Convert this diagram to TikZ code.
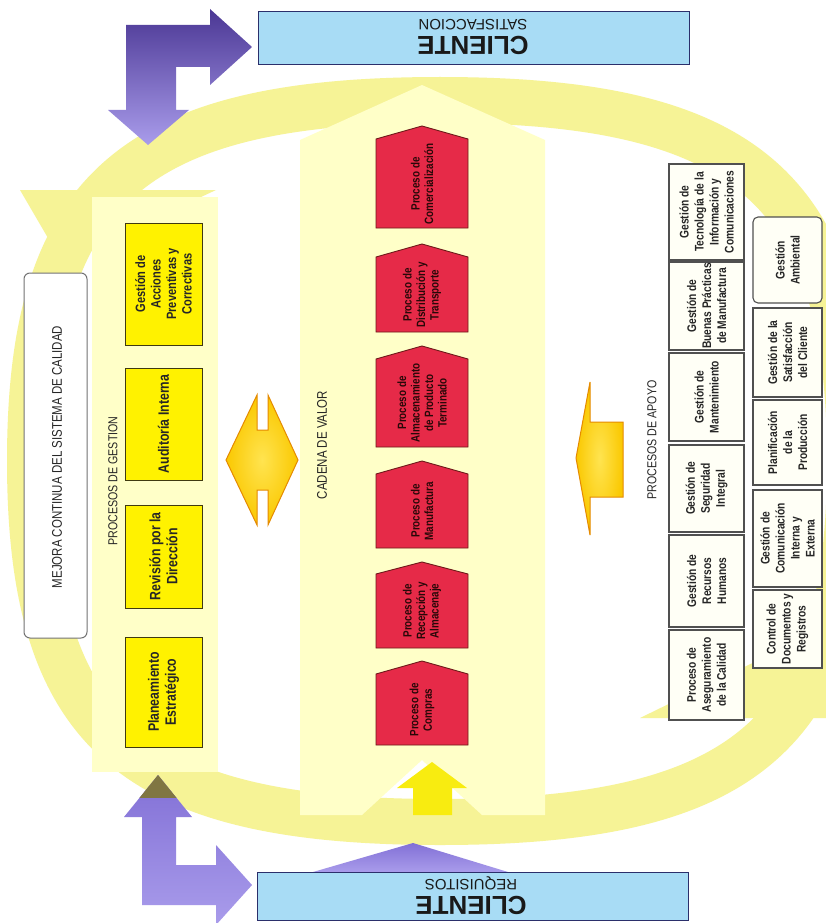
\documentclass[tikz,border=0pt]{standalone}
\usepackage{fontspec}
\setmainfont{Liberation Sans}
\newfontfamily\cond{Liberation Sans}[FakeStretch=0.82]
\definecolor{ringY}{RGB}{246,243,150}
\definecolor{paleY}{RGB}{255,255,200}
\definecolor{redF}{RGB}{230,42,72}
\definecolor{redB}{RGB}{110,26,26}
\definecolor{redT}{RGB}{40,8,8}
\definecolor{gesB}{RGB}{64,58,16}
\definecolor{supF}{RGB}{255,255,246}
\definecolor{supB}{RGB}{80,80,80}
\definecolor{cliF}{RGB}{168,220,245}
\definecolor{cliB}{RGB}{43,47,107}
\definecolor{purD}{RGB}{75,55,148}
\definecolor{purM}{RGB}{130,112,214}
\definecolor{purL}{RGB}{169,156,235}
\definecolor{olive}{RGB}{128,118,66}
\definecolor{arrY}{RGB}{248,236,16}
\definecolor{orF}{RGB}{250,200,0}
\definecolor{orL}{RGB}{255,228,80}
\definecolor{orB}{RGB}{229,138,0}
\begin{document}
\begin{tikzpicture}[x=1pt,y=-1pt,
  supbox/.style={draw=supB, fill=supF, line width=1.1pt},
  gesbox/.style={draw=gesB, fill=yellow, line width=1pt},
  redbox/.style={draw=redB, fill=redF, line width=0.9pt},
  clibox/.style={draw=cliB, fill=cliF, line width=1pt},
  boxtxt/.style={rotate=90, align=center, inner sep=0pt, text=black!85,
    font=\cond\bfseries\fontsize{12.5}{15}\selectfont},
  gestxt/.style={boxtxt, font=\cond\bfseries\fontsize{15}{17}\selectfont},
  redtxt/.style={rotate=90, align=center, inner sep=0pt, text=redT,
    font=\cond\bfseries\fontsize{12}{13.5}\selectfont},
  lbl/.style={rotate=90, inner sep=0pt, text=black!85,
    font=\cond\fontsize{13}{15}\selectfont},
  clitxt/.style={rotate=180, inner sep=0pt, text=black!90},
  orarrow/.style={draw=orB, line width=1pt, inner color=orL, outer color=orF},
]
\useasboundingbox (0,0) rectangle (826,923);
\fill[white] (0,0) rectangle (826,923);

% continuous improvement ring with its two arrow heads
\draw[ringY, line width=46pt]
  (30,461) .. controls (30,190) and (132,100) .. (440,100)
  .. controls (748,100) and (850,190) .. (850,461)
  .. controls (850,732) and (748,822) .. (440,822)
  .. controls (132,822) and (30,732) .. (30,461) -- cycle;
\fill[ringY] (20,190) -- (216,190) -- (62,262) -- cycle;
\fill[ringY] (640,718) -- (930,718) -- (820,630) -- cycle;

% pale panels
\fill[paleY] (92,197) rectangle (218,772);
\fill[paleY] (300,140) -- (422,85) -- (545,140) -- (545,815) -- (482,815)
  -- (422,760) -- (362,815) -- (300,815) -- cycle;

% client arrows
\shade[top color=purD, bottom color=purL]
  (126,25) -- (210,25) -- (210,9) -- (252,47) -- (210,85) -- (210,67)
  -- (176,67) -- (176,110) -- (189,110) -- (148,145) -- (108,110)
  -- (126,110) -- cycle;
\shade[top color=purM, bottom color=purL]
  (142,817) -- (124,817) -- (158,775) -- (192,817) -- (176,817)
  -- (176,865) -- (216,865) -- (216,845) -- (252,885) -- (216,925)
  -- (216,905) -- (142,905) -- cycle;
\begin{scope}
  \clip (0,760) rectangle (300,797);
  \fill[olive] (124,817) -- (158,775) -- (192,817) -- cycle;
\end{scope}
\shade[top color=purM, bottom color=purL] (313,872) -- (413,843) -- (508,872) -- cycle;

% client boxes
\draw[clibox] (258,12) rectangle (689,65);
\node[clitxt, font=\bfseries\fontsize{26}{28}\selectfont] (cliA) at (473,45) {CLIENTE};
\node[clitxt, font=\fontsize{15}{17}\selectfont] (satis) at (473,25) {SATISFACCION};
\draw[clibox] (257,872) rectangle (688,920);
\node[clitxt, font=\bfseries\fontsize{26}{28}\selectfont] (cliB) at (471,905) {CLIENTE};
\node[clitxt, font=\fontsize{15}{17}\selectfont] (requi) at (471,883) {REQUISITOS};

% input arrow into the value chain
\fill[arrY] (413,815) -- (413,788) -- (397,788) -- (432,762) -- (467,788)
  -- (452,788) -- (452,815) -- cycle;

% continuous improvement label
\draw[draw=black!55, fill=white, line width=1pt, rounded corners=6pt] (24,273) rectangle (87,638);
\node[lbl, font=\cond\fontsize{14}{16}\selectfont] (mejora) at (57,457) {MEJORA CONTINUA DEL SISTEMA DE CALIDAD};

% management processes
\node[lbl] (lges) at (113,481) {PROCESOS DE GESTION};
\draw[gesbox] (125,223) rectangle (202,345);
\node[boxtxt, font=\cond\bfseries\fontsize{13.5}{15.5}\selectfont] (g1) at (163.5,284) {Gestión de\\Acciones\\Preventivas y\\Correctivas};
\draw[gesbox] (125,368) rectangle (202,480);
\node[gestxt] (g2) at (163.5,424) {Auditoría Interna};
\draw[gesbox] (125,505) rectangle (202,608);
\node[gestxt] (g3) at (163.5,556.5) {Revisión por la\\Dirección};
\draw[gesbox] (125,637) rectangle (202,747);
\node[gestxt] (g4) at (163.5,692) {Planeamiento\\Estratégico};

% double arrow between management and value chain
\draw[orarrow] (226,460) -- (257,395) -- (257,430) -- (268,430) -- (268,395)
  -- (298,460) -- (268,525) -- (268,490) -- (257,490) -- (257,525) -- cycle;

% value chain
\node[lbl, font=\cond\fontsize{14}{16}\selectfont] (lcad) at (322,445) {CADENA DE VALOR};
\draw[redbox] (376,139) -- (422,126) -- (468,139) -- (468,228) -- (376,228) -- cycle;
\node[redtxt] (v1) at (422,184) {Proceso de\\Comercialización};
\draw[redbox] (376,257) -- (422,244) -- (468,257) -- (468,332) -- (376,332) -- cycle;
\node[redtxt] (v2) at (422,295) {Proceso de\\Distribución y\\Transporte};
\draw[redbox] (376,359) -- (422,346) -- (468,359) -- (468,447) -- (376,447) -- cycle;
\node[redtxt] (v3) at (422,403) {Proceso de\\Almacenamiento\\de Producto\\Terminado};
\draw[redbox] (376,474) -- (422,461) -- (468,474) -- (468,548) -- (376,548) -- cycle;
\node[redtxt] (v4) at (422,511) {Proceso de\\Manufactura};
\draw[redbox] (376,574) -- (422,562) -- (468,574) -- (468,648) -- (376,648) -- cycle;
\node[redtxt] (v5) at (422,611) {Proceso de\\Recepción y\\Almacenaje};
\draw[redbox] (376,674) -- (422,661) -- (468,674) -- (468,745) -- (376,745) -- cycle;
\node[redtxt] (v6) at (422,710) {Proceso de\\Compras};

% support arrow into the value chain
\draw[orarrow] (576,458) -- (590,382) -- (590,422) -- (623,422) -- (623,497)
  -- (590,497) -- (590,535) -- cycle;
\node[lbl] (lapo) at (652,440) {PROCESOS DE APOYO};

% support processes
\draw[supbox] (669,164) rectangle (744,260);
\node[boxtxt] (s1) at (706.5,212) {Gestión de\\Tecnología de la\\Información y\\Comunicaciones};
\draw[supbox] (669,262) rectangle (744,350);
\node[boxtxt] (s2) at (706.5,306) {Gestión de\\Buenas Prácticas\\de Manufactura};
\draw[supbox] (669,353) rectangle (744,441);
\node[boxtxt] (s3) at (706.5,397) {Gestión de\\Mantenimiento};
\draw[supbox] (669,445) rectangle (744,532);
\node[boxtxt] (s4) at (706.5,488.5) {Gestión de\\Seguridad\\Integral};
\draw[supbox] (669,535) rectangle (744,627);
\node[boxtxt] (s5) at (706.5,581) {Gestión de\\Recursos\\Humanos};
\draw[supbox] (669,630) rectangle (744,720);
\node[boxtxt] (s6) at (706.5,675) {Proceso de\\Aseguramiento\\de la Calidad};
\draw[supbox, rounded corners=5pt] (753,217) rectangle (822,303);
\node[boxtxt] (r1) at (787.5,260) {Gestión\\Ambiental};
\draw[supbox] (753,308) rectangle (822,397);
\node[boxtxt] (r2) at (787.5,352.5) {Gestión de la\\Satisfacción\\del Cliente};
\draw[supbox] (753,400) rectangle (822,485);
\node[boxtxt] (r3) at (787.5,442.5) {Planificación\\de la\\Producción};
\draw[supbox] (753,490) rectangle (822,587);
\node[boxtxt] (r4) at (787.5,538.5) {Gestión de\\Comunicación\\Interna y\\Externa};
\draw[supbox] (753,590) rectangle (822,668);
\node[boxtxt] (r5) at (787.5,629) {Control de\\Documentos y\\Registros};
\end{tikzpicture}
\end{document}
